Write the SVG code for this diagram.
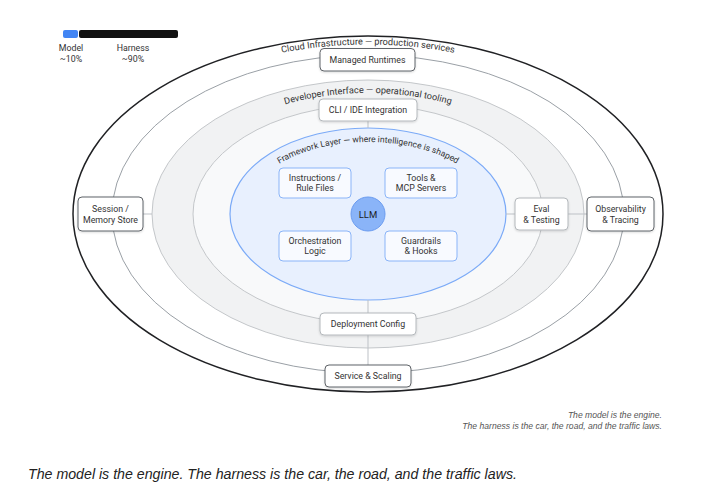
<svg xmlns="http://www.w3.org/2000/svg" xmlns:xlink="http://www.w3.org/1999/xlink" width="720" height="500" viewBox="0 0 720 500">
  <style>
    .lbl { font-family: Roboto, "Liberation Sans", Arial, sans-serif; font-size: 8.8px; fill: #333; text-anchor: middle; }
    .arc { font-family: Roboto, "Liberation Sans", Arial, sans-serif; font-size: 9.2px; fill: #333; text-anchor: middle; }
    .box-dark { fill: #fff; stroke: #5f6368; stroke-width: 1; }
    .box-grey { fill: #fff; stroke: #b4b8bc; stroke-width: 1; }
    .box-blue { fill: #f8faff; stroke: #8ab4f8; stroke-width: 1; }
    .conn { stroke: #bdc1c6; stroke-width: 1; fill: none; }
    .cap { font-family: "Liberation Sans", Arial, sans-serif; font-style: italic; fill: #555; }
  </style>
  <defs>
    <filter id="shadow" x="-20%" y="-30%" width="140%" height="170%">
      <feDropShadow dx="0" dy="1" stdDeviation="1" flood-color="#000" flood-opacity="0.15"/>
    </filter>
    <path id="arcCloud" d="M 90 214 A 278 169.5 0 0 1 646 214"/>
    <path id="arcDev" d="M 173 214 A 195 121 0 0 1 563 214"/>
    <path id="arcFw" d="M 244 214 A 124 72 0 0 1 492 214"/>
  </defs>

  <rect width="720" height="500" fill="#fff"/>

  <!-- legend bar -->
  <g id="legend">
    <rect x="63" y="30" width="15" height="8" rx="2" fill="#4285f4"/>
    <rect x="79" y="30" width="99" height="8" rx="2" fill="#111"/>
    <text class="lbl" x="71" y="50.5">Model</text>
    <text class="lbl" x="71" y="61.5">~10%</text>
    <text class="lbl" x="133" y="50.5">Harness</text>
    <text class="lbl" x="133" y="61.5">~90%</text>
  </g>

  <!-- concentric layers -->
  <g id="layers">
    <ellipse cx="368" cy="214" rx="295" ry="178" fill="#fff" stroke="#202124" stroke-width="1.5"/>
    <ellipse cx="368" cy="214" rx="256" ry="159" fill="#fff" stroke="#9aa0a6" stroke-width="1"/>
    <ellipse cx="368" cy="214" rx="216" ry="134" fill="#f1f2f3" stroke="#c4c7ca" stroke-width="1"/>
    <ellipse cx="368" cy="214" rx="175" ry="109" fill="#f8f9fa" stroke="#c4c7ca" stroke-width="1"/>
    <ellipse cx="368" cy="214" rx="138" ry="86" fill="#e8f0fe" stroke="#7baaf7" stroke-width="1.2"/>
  </g>

  <!-- connectors -->
  <g id="connectors">
    <line class="conn" x1="143" y1="214" x2="152" y2="214"/>
    <line class="conn" x1="506" y1="214" x2="515" y2="214"/>
    <line class="conn" x1="568" y1="214" x2="587" y2="214"/>
    <line class="conn" x1="368" y1="121" x2="368" y2="128"/>
    <line class="conn" x1="368" y1="300" x2="368" y2="313"/>
    <line class="conn" x1="368" y1="335" x2="368" y2="365"/>
  </g>

  <!-- layer titles -->
  <g id="layer-titles">
    <text class="arc"><textPath xlink:href="#arcCloud" href="#arcCloud" startOffset="50%">Cloud Infrastructure — production services</textPath></text>
    <text class="arc"><textPath xlink:href="#arcDev" href="#arcDev" startOffset="50%">Developer Interface — operational tooling</textPath></text>
    <text class="arc" style="font-size:8.6px"><textPath xlink:href="#arcFw" href="#arcFw" startOffset="50%">Framework Layer — where intelligence is shaped</textPath></text>
  </g>

  <!-- cloud infrastructure nodes -->
  <g id="managed-runtimes">
    <rect class="box-dark" x="320" y="48.5" width="95" height="22.5" rx="4" filter="url(#shadow)"/>
    <text class="lbl" x="367.5" y="63">Managed Runtimes</text>
  </g>
  <g id="session-memory">
    <rect class="box-dark" x="78" y="197" width="65" height="34" rx="4" filter="url(#shadow)"/>
    <text class="lbl" x="110.5" y="212">Session /</text>
    <text class="lbl" x="110.5" y="222.5">Memory Store</text>
  </g>
  <g id="observability">
    <rect class="box-dark" x="587" y="197" width="67" height="34" rx="4" filter="url(#shadow)"/>
    <text class="lbl" x="620.5" y="212">Observability</text>
    <text class="lbl" x="620.5" y="222.5">&amp; Tracing</text>
  </g>
  <g id="service-scaling">
    <rect class="box-dark" x="325" y="365" width="86" height="22" rx="4" filter="url(#shadow)"/>
    <text class="lbl" x="368" y="379">Service &amp; Scaling</text>
  </g>

  <!-- developer interface nodes -->
  <g id="cli-ide">
    <rect class="box-grey" x="319" y="99" width="98" height="22" rx="4" filter="url(#shadow)"/>
    <text class="lbl" x="368" y="113">CLI / IDE Integration</text>
  </g>
  <g id="eval-testing">
    <rect class="box-grey" x="515" y="198" width="53" height="32" rx="4" filter="url(#shadow)"/>
    <text class="lbl" x="541.5" y="212">Eval</text>
    <text class="lbl" x="541.5" y="222.5">&amp; Testing</text>
  </g>
  <g id="deployment-config">
    <rect class="box-grey" x="320" y="313" width="96" height="22" rx="4" filter="url(#shadow)"/>
    <text class="lbl" x="368" y="327">Deployment Config</text>
  </g>

  <!-- framework layer nodes -->
  <g id="instructions">
    <rect class="box-blue" x="279" y="168" width="72" height="30" rx="4"/>
    <text class="lbl" x="315" y="181">Instructions /</text>
    <text class="lbl" x="315" y="191">Rule Files</text>
  </g>
  <g id="tools-mcp">
    <rect class="box-blue" x="385" y="168" width="72" height="30" rx="4"/>
    <text class="lbl" x="421" y="181">Tools &amp;</text>
    <text class="lbl" x="421" y="191">MCP Servers</text>
  </g>
  <g id="orchestration">
    <rect class="box-blue" x="279" y="231" width="72" height="30" rx="4"/>
    <text class="lbl" x="315" y="244">Orchestration</text>
    <text class="lbl" x="315" y="254">Logic</text>
  </g>
  <g id="guardrails">
    <rect class="box-blue" x="385" y="231" width="72" height="30" rx="4"/>
    <text class="lbl" x="421" y="244">Guardrails</text>
    <text class="lbl" x="421" y="254">&amp; Hooks</text>
  </g>
  <g id="llm">
    <circle cx="368" cy="214" r="17" fill="#8ab4f8" stroke="#6b9cf0" stroke-width="1"/>
    <text class="lbl" x="368" y="217.5" style="font-size:9.5px;fill:#202124">LLM</text>
  </g>

  <!-- captions -->
  <g id="captions">
    <text class="cap" x="662" y="417.5" text-anchor="end" font-size="8.6">The model is the engine.</text>
    <text class="cap" x="662" y="428.5" text-anchor="end" font-size="8.6">The harness is the car, the road, and the traffic laws.</text>
    <text class="cap" x="28" y="479" font-size="14.2" style="fill:#222">The model is the engine. The harness is the car, the road, and the traffic laws.</text>
  </g>
</svg>
